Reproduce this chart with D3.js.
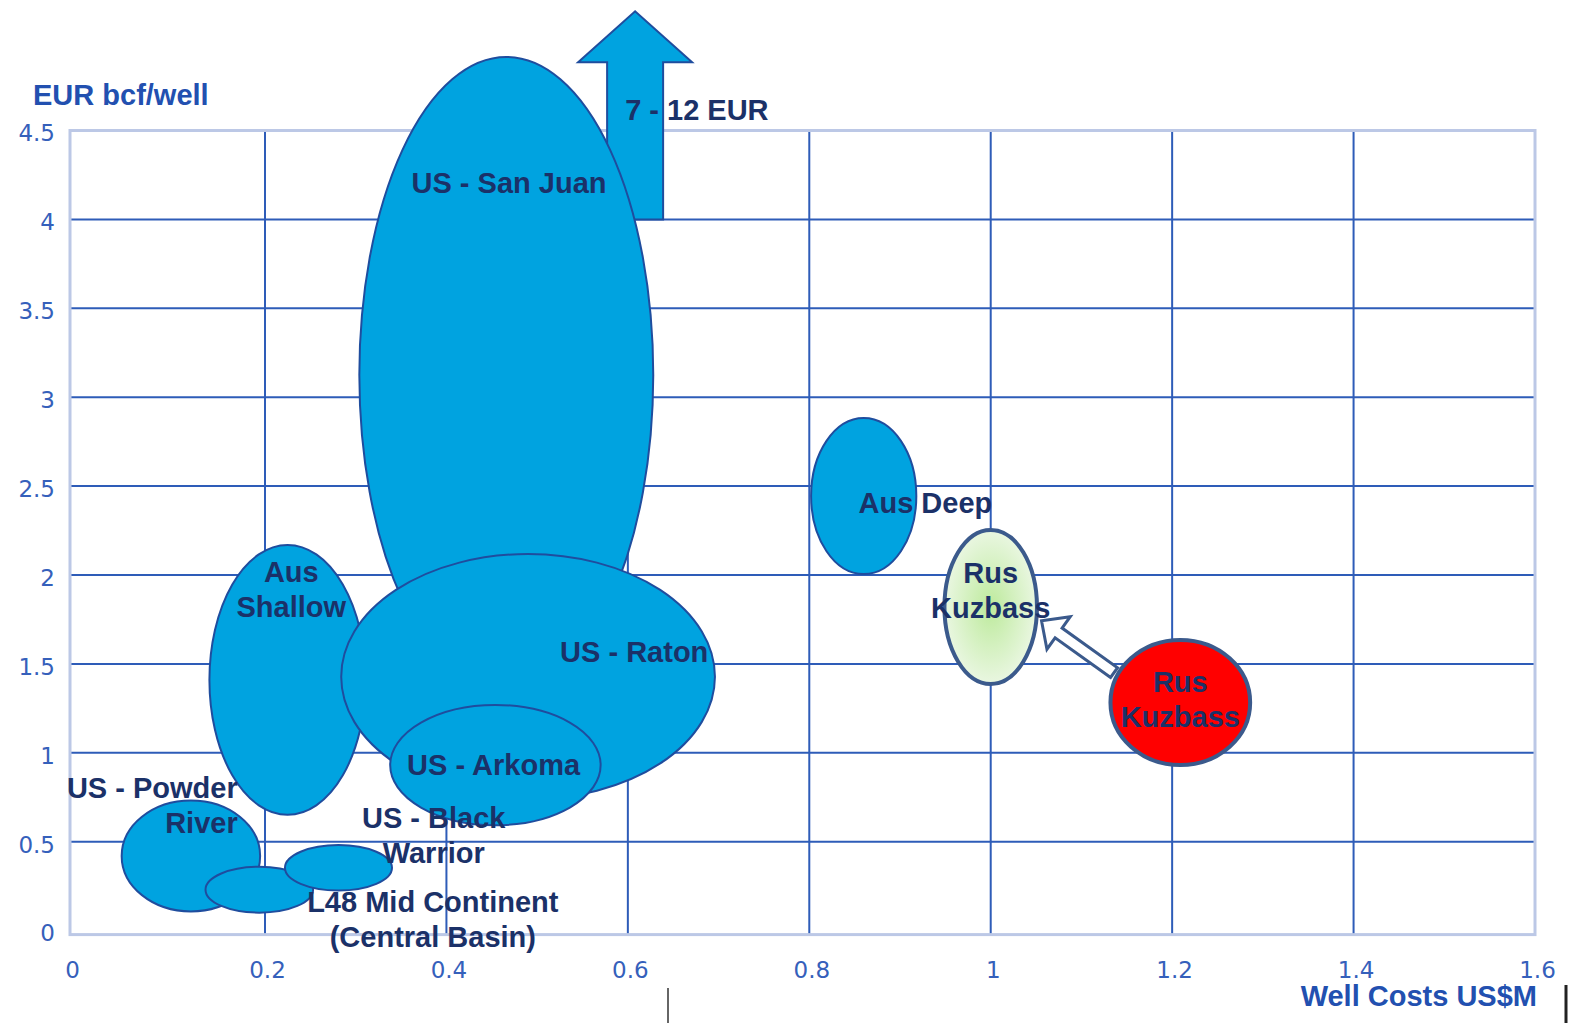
<!DOCTYPE html>
<html>
<head>
<meta charset="utf-8">
<script src="https://cdn.jsdelivr.net/npm/d3@7"></script>
<style>
  body { margin: 0; background: #fff; }
  svg { display: block; }
</style>
</head>
<body>
<div id="chart"></div>
<script>
const WIDTH = 1576;
const HEIGHT = 1023;

// ticks de los ejes
const xTicks = [0, 0.2, 0.4, 0.6, 0.8, 1, 1.2, 1.4, 1.6];
const yTicks = [0, 0.5, 1, 1.5, 2, 2.5, 3, 3.5, 4, 4.5];

// cuencas: centro y semi-rango de costo (US$M) y EUR (bcf/pozo)
const basins = ["US - Powder River", "L48 Mid Continent (Central Basin)", "US - Black Warrior",
  "Aus Shallow", "US - San Juan", "US - Raton", "US - Arkoma", "Aus Deep",
  "Rus Kuzbass (target)", "Rus Kuzbass"];
const costMid  = [0.124, 0.196, 0.281, 0.227, 0.466, 0.490, 0.454, 0.860, 1.000, 1.209];
const costHalf = [0.071, 0.057, 0.059, 0.084, 0.162, 0.206, 0.116, 0.058, 0.051, 0.077];
const eurMid   = [0.420, 0.230, 0.353, 1.410, 3.125, 1.428, 0.931, 2.444, 1.820, 1.283];
const eurHalf  = [0.312, 0.129, 0.128, 0.759, 1.789, 0.690, 0.338, 0.439, 0.433, 0.352];
const basinType = ["us", "us", "us", "aus", "us", "us", "us", "aus", "rusTarget", "rusNow"];

// etiquetas (primera línea, en unidades de los ejes)
const labelLines = [["US - Powder", "River"], ["L48 Mid Continent", "(Central Basin)"],
  ["US - Black", "Warrior"], ["Aus", "Shallow"], ["US - San Juan"], ["US - Raton"],
  ["US - Arkoma"], ["Aus Deep"], ["Rus", "Kuzbass"], ["Rus", "Kuzbass"]];
const labelCost = [0.172, 0.385, 0.386, 0.229, 0.469, 0.607, 0.452, 0.928, 1.000, 1.209];
const labelEur  = [0.802, 0.163, 0.634, 2.019, 4.206, 1.569, 0.931, 2.405, 2.011, 1.400];

// flecha de San Juan fuera de escala
const offScale = { label: "7 - 12 EUR", cost: 0.608, eurFrom: 4.0, eurTo: 5.17, labelCost: 0.597, labelEur: 4.615 };
// flecha de Kuzbass actual -> objetivo
const move = { costFrom: 1.136, eurFrom: 1.451, costTo: 1.056, eurTo: 1.743 };

const LABEL_FONT = "'Liberation Sans', Arial, sans-serif";
const TICK_FONT = "'DejaVu Sans', Verdana, sans-serif";
const LINE_H = 35;

const SVG = d3.select("#chart").append("svg")
  .attr("width", WIDTH).attr("height", HEIGHT);

const x = d3.scaleLinear().domain([0, 0.2, 1.6]).range([70, 265, 1535]);
const y = d3.scaleLinear().domain([0, 4.5]).range([930.6, 130.5]);

const defs = SVG.append("defs");
const grad = defs.append("radialGradient").attr("id", "verde")
  .attr("cx", "50%").attr("cy", "50%").attr("r", "55%");
grad.append("stop").attr("offset", "0%").attr("stop-color", "#bdea9c");
grad.append("stop").attr("offset", "100%").attr("stop-color", "#eef8e8");

const fillColor = { us: "#00a3e0", aus: "#00a3e0", rusTarget: "url(#verde)", rusNow: "#ff0000" };
const strokeColor = { us: "#1f4d9e", aus: "#1f4d9e", rusTarget: "#3b5a8c", rusNow: "#3b5a8c" };
const strokeW = { us: 2, aus: 2, rusTarget: 4, rusNow: 4 };

// grilla interior
SVG.append("g").selectAll("line")
  .data(xTicks.slice(1, -1))
  .join("line")
  .attr("x1", d => x(d)).attr("x2", d => x(d))
  .attr("y1", y(4.5)).attr("y2", y(0) + 4)
  .attr("stroke", "#2e5cb8").attr("stroke-width", 2);

SVG.append("g").selectAll("line")
  .data(yTicks.slice(1, -1))
  .join("line")
  .attr("x1", x(0)).attr("x2", x(1.6))
  .attr("y1", d => y(d)).attr("y2", d => y(d))
  .attr("stroke", "#2e5cb8").attr("stroke-width", 2);

// marco
SVG.append("rect")
  .attr("x", x(0)).attr("y", y(4.5))
  .attr("width", x(1.6) - x(0)).attr("height", y(0) + 4 - y(4.5))
  .attr("fill", "none").attr("stroke", "#bcc8e6").attr("stroke-width", 3);

// ejes (solo etiquetas)
const xAxis = SVG.append("g")
  .attr("transform", `translate(2,${y(0)})`)
  .call(d3.axisBottom(x).tickValues(xTicks).tickFormat(d => d).tickSize(0).tickPadding(31));
const yAxis = SVG.append("g")
  .attr("transform", `translate(${x(0)},3)`)
  .call(d3.axisLeft(y).tickValues(yTicks).tickFormat(d => d).tickSize(0).tickPadding(15));
[xAxis, yAxis].forEach(a => {
  a.select(".domain").remove();
  a.selectAll("text")
    .attr("fill", "#3560bb")
    .style("font-family", TICK_FONT)
    .style("font-size", "23px");
});

// títulos de ejes
SVG.append("text")
  .attr("x", 33).attr("y", 105)
  .attr("fill", "#2250b0")
  .style("font-family", LABEL_FONT).style("font-size", "29px").style("font-weight", "bold")
  .text("EUR bcf/well");
SVG.append("text")
  .attr("x", 1537).attr("y", 1006)
  .attr("text-anchor", "end")
  .attr("fill", "#2250b0")
  .style("font-family", LABEL_FONT).style("font-size", "29px").style("font-weight", "bold")
  .text("Well Costs US$M");

// flecha hacia arriba (San Juan 7 - 12 EUR)
const ax = x(offScale.cost), ab = y(offScale.eurFrom), at = y(offScale.eurTo);
const ah = at + 51;
SVG.append("path")
  .attr("d", d3.line()([[ax - 28, ab], [ax - 28, ah], [ax - 57, ah], [ax, at],
    [ax + 57, ah], [ax + 28, ah], [ax + 28, ab]]) + "Z")
  .attr("fill", "#00a3e0").attr("stroke", "#1f4d9e").attr("stroke-width", 2)
  .attr("stroke-linejoin", "miter");

// elipses
const px = i => (x(costMid[i] - costHalf[i]) + x(costMid[i] + costHalf[i])) / 2;
const prx = i => (x(costMid[i] + costHalf[i]) - x(costMid[i] - costHalf[i])) / 2;
const py = i => y(eurMid[i]);
const pry = i => y(0) - y(eurHalf[i]);

function drawEllipses(g, idx) {
  g.selectAll("ellipse")
    .data(idx)
    .join("ellipse")
    .attr("cx", px).attr("cy", py)
    .attr("rx", prx).attr("ry", pry)
    .attr("fill", i => fillColor[basinType[i]])
    .attr("stroke", i => strokeColor[basinType[i]])
    .attr("stroke-width", i => strokeW[basinType[i]]);
}

const idxAll = d3.range(basins.length);
drawEllipses(SVG.append("g"), idxAll.filter(i => basinType[i] !== "rusNow"));

// flecha hueca Kuzbass
const x0 = x(move.costFrom), y0 = y(move.eurFrom);
const x1 = x(move.costTo), y1 = y(move.eurTo);
const L = Math.hypot(x1 - x0, y1 - y0);
const ang = Math.atan2(y1 - y0, x1 - x0) * 180 / Math.PI;
SVG.append("path")
  .attr("transform", `translate(${x0},${y0}) rotate(${ang})`)
  .attr("d", d3.line()([[0, -6], [L - 21, -6], [L - 21, -20], [L, 0],
    [L - 21, 20], [L - 21, 6], [0, 6]]) + "Z")
  .attr("fill", "#fff").attr("stroke", "#3b5a8c").attr("stroke-width", 3);

drawEllipses(SVG.append("g"), idxAll.filter(i => basinType[i] === "rusNow"));

// etiquetas
const labels = SVG.append("g")
  .style("font-family", LABEL_FONT)
  .style("font-size", "29px")
  .style("font-weight", "bold")
  .attr("fill", "#1b3168");

labels.selectAll("text")
  .data(idxAll)
  .join("text")
  .attr("text-anchor", i => basins[i] === "US - Powder River" ? "end" : "middle")
  .each(function (i) {
    d3.select(this).selectAll("tspan")
      .data(labelLines[i])
      .join("tspan")
      .attr("x", x(labelCost[i]))
      .attr("y", (d, k) => y(labelEur[i]) + 10.4 + k * LINE_H)
      .text(d => d);
  });

labels.append("text")
  .attr("x", x(offScale.labelCost))
  .attr("y", y(offScale.labelEur) + 10.4)
  .text(offScale.label);

// marcas del recorte original
SVG.append("line").attr("x1", 668).attr("x2", 668).attr("y1", 988).attr("y2", HEIGHT)
  .attr("stroke", "#333").attr("stroke-width", 1.5);
SVG.append("line").attr("x1", 1566).attr("x2", 1566).attr("y1", 985).attr("y2", HEIGHT)
  .attr("stroke", "#222").attr("stroke-width", 3);
</script>
</body>
</html>
